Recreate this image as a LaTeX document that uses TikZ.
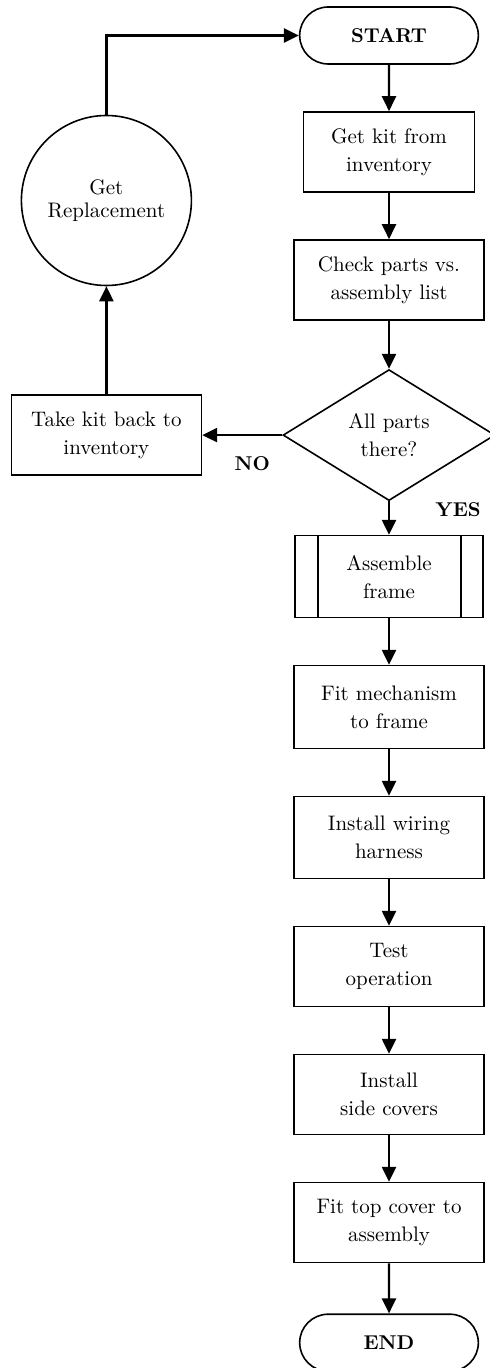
\documentclass[tikz,border=0pt]{standalone}
\usepackage{tikz}
\usetikzlibrary{arrows.meta}
\usetikzlibrary{positioning}
\usetikzlibrary{shapes.geometric}
\usetikzlibrary{shapes.misc}
\tikzstyle{flow} = [line width=1.2pt,-{Triangle[length=7.5pt,width=7pt]}]
\tikzstyle{thin line} = [line width=0.8pt]

\begin{document}
\begin{tikzpicture}[node distance=23.2pt,
                      process node/.style={draw,thin line,align=center,font=\fontsize{10.5}{14}\selectfont,minimum width=95pt,minimum height=40pt,inner sep=2pt},
                      terminal node/.style={draw,thin line,rounded rectangle,font=\bfseries,minimum width=96pt,minimum height=28.5pt},
                      decision node/.style={draw,thin line,diamond,aspect=1.6,align=center,font=\fontsize{10.5}{14}\selectfont,minimum width=106pt,minimum height=65.5pt,inner sep=0pt},
                      subprocess node/.style={process node,path picture={
                          \draw[thin line] ([xshift=11.5pt]path picture bounding box.north west) -- ([xshift=11.5pt]path picture bounding box.south west);
                          \draw[thin line] ([xshift=-11pt]path picture bounding box.north east) -- ([xshift=-11pt]path picture bounding box.south east);}},
                      circle node/.style={draw,thin line,circle,align=center,font=\fontsize{10.5}{11.5}\selectfont,minimum size=85pt,inner sep=0pt},
                      answer label/.style={font=\bfseries,inner sep=0pt}]
  \useasboundingbox (0,0) rectangle (244.5pt,-684pt);

        \node[terminal node] (1) at (194.5pt,-17.75pt) {START};
        \node[process node] (2) [below=of 1, minimum width=85.5pt] {Get kit from\\inventory};
        \node[process node] (3) [below=of 2] {Check parts vs.\\assembly list};
        \node[decision node] (4) [below=24pt of 3] {All parts\\there?};
        \node[subprocess node] (5) [below=16.7pt of 4, minimum width=94pt, minimum height=41pt] {Assemble\\frame};
        \node[process node] (6) [below=of 5, minimum height=41.5pt] {Fit mechanism\\to frame};
        \node[process node] (7) [below=of 6, minimum height=41pt] {Install wiring\\harness};
        \node[process node] (8) [below=of 7] {Test\\operation};
        \node[process node] (9) [below=of 8] {Install\\side covers};
        \node[process node] (10) [below=of 9] {Fit top cover to\\assembly};
        \node[terminal node] (11) [below=25pt of 10] {END};

        \node[process node] (12) [left=40pt of 4] {Take kit back to\\inventory};
        \node[circle node] (13) [above=54pt of 12] {Get\\Replacement};

        \node[answer label] (no) [below=10.5pt of 4.west, xshift=-15pt] {NO};
        \node[answer label] (yes) [below right=0.5pt and 23pt of 4.south] {YES};

        \path[flow]
        (1) edge (2)
        (2) edge (3)
        (3) edge (4)
        (4) edge (5)
        (5) edge (6)
        (6) edge (7)
        (7) edge (8)
        (8) edge (9)
        (9) edge (10)
        (10) edge (11)

        (4) edge (12)
        (12) edge (13)
        ;

        \draw[flow] (13) |- (1);
    \end{tikzpicture}
\end{document}
